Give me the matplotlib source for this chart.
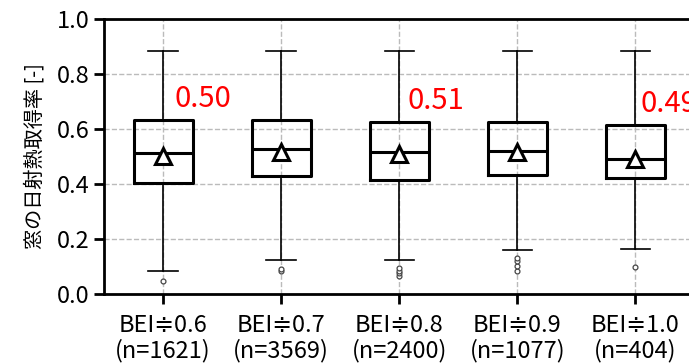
import numpy as np
import matplotlib
matplotlib.use("Agg")
import matplotlib.pyplot as plt

plt.rcParams['font.family'] = ['Noto Sans CJK JP', 'DejaVu Sans']

# box statistics per BEI class
labels = ['BEI≑0.6', 'BEI≑0.7', 'BEI≑0.8', 'BEI≑0.9', 'BEI≑1.0']
counts = [1621, 3569, 2400, 1077, 404]
q1 = [0.404, 0.427, 0.415, 0.433, 0.421]
med = [0.513, 0.527, 0.516, 0.520, 0.490]
q3 = [0.633, 0.633, 0.625, 0.624, 0.615]
whislo = [0.085, 0.124, 0.124, 0.160, 0.165]
whishi = [0.881, 0.881, 0.881, 0.881, 0.881]
means = [0.50, 0.515, 0.51, 0.515, 0.49]
fliers = [[0.047],
          [0.085, 0.092],
          [0.065, 0.075, 0.085, 0.095],
          [0.085, 0.103, 0.121, 0.132],
          [0.099]]
# which boxes get the mean written next to them
show_mean = [True, False, True, False, True]

stats = []
for i in range(len(labels)):
    stats.append(dict(med=med[i], q1=q1[i], q3=q3[i], whislo=whislo[i],
                      whishi=whishi[i], mean=means[i], fliers=fliers[i]))

fig = plt.figure(figsize=(6.89, 3.64), dpi=100)
ax = fig.add_axes([0.151, 0.192, 0.857, 0.757])

pos = np.arange(1, len(labels) + 1)
ax.bxp(stats, positions=pos, widths=0.5, showmeans=True,
       boxprops=dict(color='black', linewidth=2.2),
       medianprops=dict(color='black', linewidth=2.2),
       whiskerprops=dict(color='black', linewidth=1.2),
       capprops=dict(color='black', linewidth=1.2),
       meanprops=dict(marker='^', markerfacecolor='white', markeredgecolor='black',
                      markeredgewidth=2.2, markersize=11.5),
       flierprops=dict(marker='o', markerfacecolor='white', markeredgecolor='#444444',
                       markeredgewidth=0.9, markersize=3.5))

# mean values written beside the boxes
for i in range(len(labels)):
    if show_mean[i]:
        x = pos[i] + 0.1 - 0.015 * (pos[i] - 1)
        ax.text(x, q3[i] + 0.075, f'{means[i]:.2f}', color='red',
                fontsize=21, ha='left', va='center')

ax.set_xlim(0.5, 5.5)
ax.set_ylim(0, 1.0)
ax.set_yticks(np.arange(0, 1.01, 0.2))
ax.set_yticklabels([f'{v:.1f}' for v in np.arange(0, 1.01, 0.2)])
ax.set_xticks(pos)
ax.set_xticklabels([f'{l}\n(n={n})' for l, n in zip(labels, counts)], linespacing=1.12)
ax.tick_params(axis='both', labelsize=17, width=2, length=7, direction='out')
ax.tick_params(axis='x', pad=7)
ax.set_ylabel('窓の日射熱取得率 [-]', fontsize=14.5, labelpad=8)
ax.grid(True, linestyle='--', color='#bbbbbb', linewidth=1)
ax.set_axisbelow(True)
for s in ax.spines.values():
    s.set_linewidth(2)

fig.savefig('out.png', dpi=100)
